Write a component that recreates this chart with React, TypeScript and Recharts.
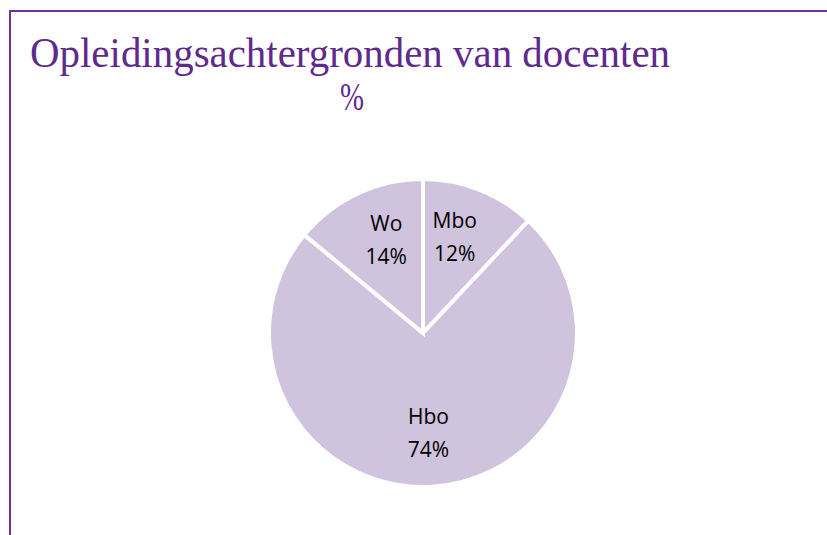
import { PieChart, Pie, Cell } from 'recharts';

const categories = ['Mbo', 'Hbo', 'Wo'];
const shares = [12, 74, 14];
const sliceColor = '#cfc3dd';
const titleColor = '#5f2a8c';
const frameColor = '#7030a0';

const data = categories.map((name, i) => ({ name, value: shares[i] }));

const RADIAN = Math.PI / 180;

// excel-ish label placement: a bit squashed horizontally
const renderLabel = ({ cx, cy, midAngle, outerRadius, index }: any) => {
  const x = cx + outerRadius * 0.56 * Math.cos(-midAngle * RADIAN);
  const y = cy + outerRadius * 0.66 * Math.sin(-midAngle * RADIAN);
  return (
    <text
      x={x}
      y={y}
      textAnchor="middle"
      fill="#000"
      fontFamily="'Open Sans', sans-serif"
      fontSize={21}
    >
      <tspan x={x} dy={-10}>{data[index].name}</tspan>
      <tspan x={x} dy={33}>{data[index].value}%</tspan>
    </text>
  );
};

const App = () => {
  return (
    <div style={{ position: 'absolute', left: 0, top: 0, width: 827, height: 535, background: '#fff' }}>
      <div
        style={{
          position: 'absolute',
          left: 9,
          top: 10,
          right: 0,
          bottom: 0,
          borderTop: `2px solid ${frameColor}`,
          borderLeft: `2px solid ${frameColor}`,
        }}
      />
      <svg width={827} height={140} style={{ position: 'absolute', left: 0, top: 0 }}>
        <text
          x={350}
          y={67}
          textAnchor="middle"
          fill={titleColor}
          fontFamily="'Liberation Serif', serif"
          fontSize={42}
          textLength={640}
          lengthAdjust="spacingAndGlyphs"
        >
          Opleidingsachtergronden van docenten
        </text>
        <text
          x={352}
          y={110}
          textAnchor="middle"
          fill={titleColor}
          fontFamily="'Liberation Serif', serif"
          fontSize={40}
          textLength={24}
          lengthAdjust="spacingAndGlyphs"
        >
          %
        </text>
      </svg>
      <div style={{ position: 'absolute', left: 0, top: 0 }}>
        <PieChart width={827} height={535} margin={{ top: 0, right: 0, bottom: 0, left: 0 }}>
          <Pie
            data={data}
            dataKey="value"
            cx={423}
            cy={333}
            outerRadius={154}
            startAngle={90}
            endAngle={-270}
            stroke="#fff"
            strokeWidth={4}
            label={renderLabel}
            labelLine={false}
            isAnimationActive={false}
          >
            {data.map((entry, index) => (
              <Cell key={`cell-${index}`} fill={sliceColor} />
            ))}
          </Pie>
        </PieChart>
      </div>
    </div>
  );
};

export default App;
